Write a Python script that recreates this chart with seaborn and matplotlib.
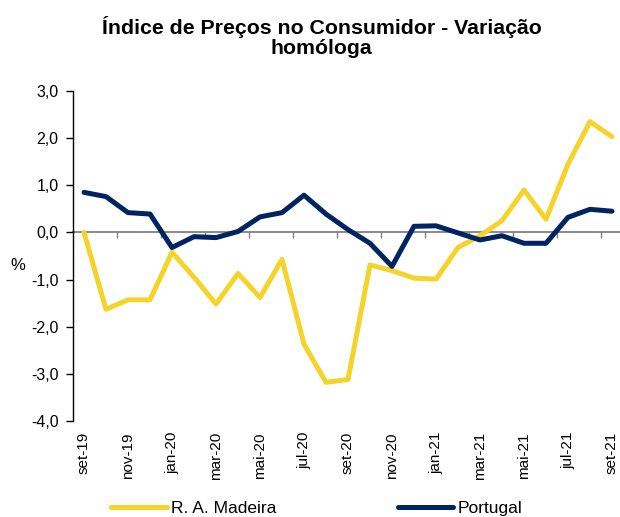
import numpy as np
import pandas as pd
import matplotlib
matplotlib.use("Agg")
import matplotlib.pyplot as plt
import seaborn as sns
from matplotlib.lines import Line2D

months = ['set-19', 'out-19', 'nov-19', 'dez-19', 'jan-20', 'fev-20', 'mar-20', 'abr-20',
          'mai-20', 'jun-20', 'jul-20', 'ago-20', 'set-20', 'out-20', 'nov-20', 'dez-20',
          'jan-21', 'fev-21', 'mar-21', 'abr-21', 'mai-21', 'jun-21', 'jul-21', 'ago-21', 'set-21']
madeira = [0.0, -1.63, -1.43, -1.43, -0.42, -0.95, -1.52, -0.87, -1.38, -0.57, -2.37, -3.18,
           -3.12, -0.69, -0.81, -0.97, -0.99, -0.32, -0.07, 0.25, 0.90, 0.28, 1.45, 2.35, 2.03]
portugal = [0.85, 0.76, 0.42, 0.39, -0.32, -0.09, -0.11, 0.02, 0.33, 0.42, 0.79, 0.39,
            0.06, -0.23, -0.72, 0.13, 0.14, -0.01, -0.16, -0.07, -0.23, -0.23, 0.32, 0.49, 0.45]
series_names = ['R. A. Madeira', 'Portugal']
colors = {'R. A. Madeira': '#F4D42A', 'Portugal': '#002461'}
yticks = [-4, -3, -2, -1, 0, 1, 2, 3]

sns.set_theme(style="white")
plt.rcParams['font.family'] = ['Liberation Sans', 'DejaVu Sans']
plt.rcParams['text.color'] = 'black'
plt.rcParams['axes.labelcolor'] = 'black'
plt.rcParams['xtick.color'] = 'black'
plt.rcParams['ytick.color'] = 'black'

n = len(months)
df = pd.DataFrame({
    'idx': list(range(n)) * 2,
    'valor': madeira + portugal,
    'serie': [series_names[0]] * n + [series_names[1]] * n,
})

fig = plt.figure(figsize=(6.2, 5.17), dpi=100)
ax = fig.add_axes([73 / 620, (517 - 421) / 517, 550 / 620, 330 / 517])

sns.lineplot(data=df, x='idx', y='valor', hue='serie', palette=colors,
             linewidth=3.6, ax=ax, legend=False, sort=False)

ax.set_xlim(-0.5, n - 0.5)
ax.set_ylim(-4, 3)
ax.set_yticks(yticks)
ax.set_yticklabels([f"{v:.1f}".replace('.', ',') for v in yticks], fontsize=11.5, color='black')
ax.tick_params(axis='y', left=True, length=5, width=1, color='black', pad=5.5, direction='out')

for s in ['top', 'right']:
    ax.spines[s].set_visible(False)
ax.spines['left'].set_color('black')
ax.spines['left'].set_linewidth(1)
ax.spines['bottom'].set_position(('data', 0))
ax.spines['bottom'].set_color('#808080')
ax.spines['bottom'].set_linewidth(1.3)
ax.spines['bottom'].set_zorder(0.5)

ax.set_xticks(np.arange(1.5, n - 1, 2))
ax.tick_params(axis='x', bottom=True, length=4, width=1, color='#808080',
               labelbottom=False, direction='out')

sec = ax.secondary_xaxis(0)
sec.set_xticks(range(0, n, 2))
sec.set_xticklabels(months[::2], rotation=90, fontsize=11, color='black')
sec.tick_params(length=0, pad=8)
sec.spines['bottom'].set_visible(False)

ax.set_xlabel('')
ax.set_ylabel('%', rotation=0, fontsize=12, va='center', ha='center', color='black')
ax.yaxis.set_label_coords(-0.101, 0.47)
ax.grid(False)

fig.text(0.519, 0.928, 'Índice de Preços no Consumidor - Variação\nhomóloga',
         ha='center', va='center', fontsize=15.3, fontweight='bold', linespacing=1.1,
         color='black')

handles = [Line2D([0], [0], color=colors[s], lw=3.6) for s in series_names]
fig.legend(handles, series_names, loc='center', bbox_to_anchor=(0.511, 0.016), ncol=2,
           frameon=False, fontsize=12.5, handlelength=3.2, handletextpad=0.25, columnspacing=7.0,
           labelcolor='black')

fig.savefig('out.png', dpi=100)
